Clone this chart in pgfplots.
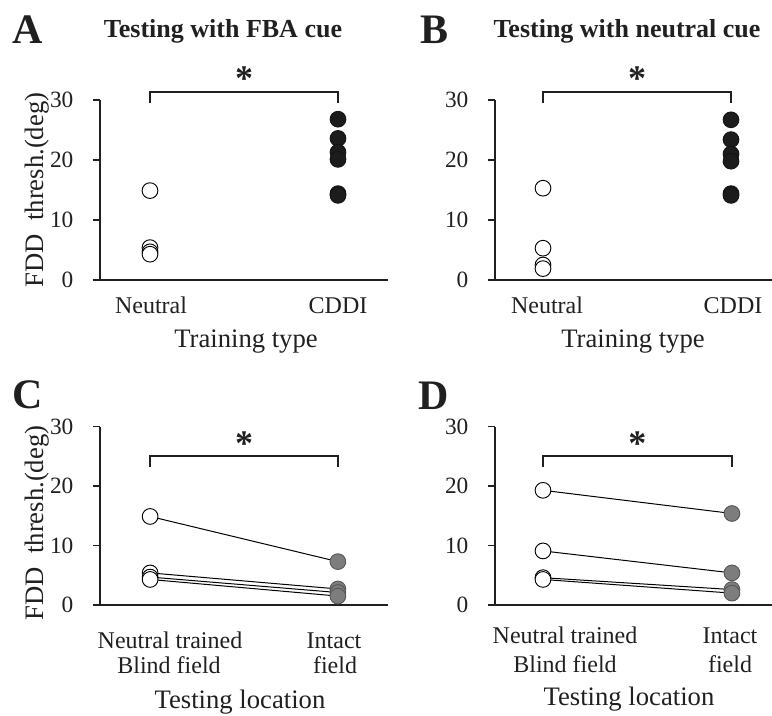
\documentclass[border=0pt]{standalone}
\usepackage{pgfplots}
\pgfplotsset{compat=1.18}
\usepackage{fontspec}
\setmainfont{Liberation Serif}

\definecolor{ink}{RGB}{32,32,32}
\definecolor{intact}{RGB}{125,125,125}
\definecolor{cddi}{RGB}{28,28,28}

% one drawing unit
\def\unitpx{0.75pt}

\newcommand{\catfont}{\fontsize{18}{21}\selectfont}
\newcommand{\labfont}{\fontsize{20}{24}\selectfont}
\newcommand{\titfont}{\fontsize{19.5}{23}\selectfont\bfseries}
\newcommand{\letfont}{\fontsize{31.5}{36}\selectfont\bfseries}

\pgfplotsset{
  panel/.style={
    scale only axis, anchor=south west,
    ymin=0, ymax=30, ytick={0,10,20,30}, yticklabels={0,10,20,30},
    xtick=\empty,
    axis x line*=bottom, axis y line*=left,
    tick align=outside, major tick length=5.25pt,
    tick style={ink, line width=1.1pt},
    axis line style={ink, line width=1.1pt},
    clip=false,
    yticklabel style={font=\fontsize{17.5}{20}\selectfont, text=ink, anchor=east, inner sep=0pt, xshift=-14.5pt},
  },
  open/.style={only marks, mark=*, mark size=5.9pt,
    mark options={fill=white, draw=black, line width=0.7pt}},
  full/.style={only marks, mark=*, mark size=5.9pt,
    mark options={fill=#1, draw=#1!70!black, line width=0.7pt}},
  pair/.style={no marks, black, line width=0.75pt},
}

\newcommand{\bracket}[3]{% y of bar, y of ends, y of star
  \draw[ink, line width=1.1pt] (axis cs:0,#2) -- (axis cs:0,#1) -- (axis cs:1,#1) -- (axis cs:1,#2);
  \node[text=ink, font=\fontsize{27}{30}\selectfont\bfseries] at (axis cs:0.5,#3) {*};
}

\begin{document}
\begin{tikzpicture}
\useasboundingbox (0,0) rectangle ({772*\unitpx},{-715*\unitpx});

% ---------------- A: testing with FBA cue
\begin{axis}[panel, at={({100*\unitpx},{-280*\unitpx})}, width={288*\unitpx}, height={180*\unitpx},
  xmin=-0.266, xmax=1.266]
  \addplot[open] coordinates {(0,14.9) (0,5.4) (0,4.7) (0,4.3)};
  \addplot[full=cddi] coordinates {(1,26.8) (1,23.6) (1,21.3) (1,20.1) (1,14.4) (1,14.1)};
  \bracket{31.3}{29.5}{33.6}
\end{axis}

% ---------------- B: testing with neutral cue
\begin{axis}[panel, at={({495*\unitpx},{-280*\unitpx})}, width={277*\unitpx}, height={180*\unitpx},
  xmin=-0.2553, xmax=1.218]
  \addplot[open] coordinates {(0,15.3) (0,5.3) (0,2.5) (0,1.9)};
  \addplot[full=cddi] coordinates {(1,26.7) (1,23.4) (1,21.0) (1,19.8) (1,14.4) (1,14.1)};
  \bracket{31.3}{29.5}{33.6}
\end{axis}

% ---------------- C: FBA cue, blind vs intact field
\begin{axis}[panel, at={({100*\unitpx},{-605*\unitpx})}, width={288*\unitpx}, height={178.3*\unitpx},
  xmin=-0.267, xmax=1.267]
  \addplot[open] coordinates {(0,14.9) (0,5.4) (0,4.7) (0,4.3)};
  \addplot[full=intact] coordinates {(1,7.3) (1,2.7) (1,2.1) (1,1.5)};
  \addplot[pair] coordinates {(0,14.9) (1,7.3)};
  \addplot[pair] coordinates {(0,5.4) (1,2.7)};
  \addplot[pair] coordinates {(0,4.7) (1,2.1)};
  \addplot[pair] coordinates {(0,4.3) (1,1.5)};
  \bracket{25.1}{23.2}{27.2}
\end{axis}

% ---------------- D: neutral cue, blind vs intact field
\begin{axis}[panel, at={({495*\unitpx},{-605*\unitpx})}, width={277*\unitpx}, height={178.3*\unitpx},
  xmin=-0.254, xmax=1.212]
  \addplot[open] coordinates {(0,19.3) (0,9.1) (0,4.6) (0,4.3)};
  \addplot[full=intact] coordinates {(1,15.4) (1,5.4) (1,2.6) (1,2.0)};
  \addplot[pair] coordinates {(0,19.3) (1,15.4)};
  \addplot[pair] coordinates {(0,9.1) (1,5.4)};
  \addplot[pair] coordinates {(0,4.6) (1,2.6)};
  \addplot[pair] coordinates {(0,4.3) (1,2.0)};
  \bracket{25.1}{23.2}{27.2}
\end{axis}

% ---------------- panel letters and titles
\node[anchor=base west, inner sep=0pt, text=ink, font=\letfont] at ({12*\unitpx},{-43*\unitpx}) {A};
\node[anchor=base west, inner sep=0pt, text=ink, font=\letfont] at ({420*\unitpx},{-43*\unitpx}) {B};
\node[anchor=base west, inner sep=0pt, text=ink, font=\letfont] at ({12*\unitpx},{-408*\unitpx}) {C};
\node[anchor=base west, inner sep=0pt, text=ink, font=\letfont] at ({418*\unitpx},{-409*\unitpx}) {D};
\node[anchor=base, inner sep=0pt, text=ink, font=\titfont] at ({223*\unitpx},{-37*\unitpx}) {Testing with FBA cue};
\node[anchor=base, inner sep=0pt, text=ink, font=\titfont] at ({627*\unitpx},{-37*\unitpx}) {Testing with neutral cue};

% ---------------- y labels
\node[rotate=90, inner sep=0pt, text=ink, font=\labfont] at ({37*\unitpx},{-190*\unitpx}) {FDD~~thresh.(deg)};
\node[rotate=90, inner sep=0pt, text=ink, font=\labfont] at ({37*\unitpx},{-523*\unitpx}) {FDD~~thresh.(deg)};

% ---------------- category labels
\node[anchor=base, inner sep=0pt, text=ink, font=\catfont] at ({151*\unitpx},{-313*\unitpx}) {Neutral};
\node[anchor=base, inner sep=0pt, text=ink, font=\catfont] at ({338*\unitpx},{-313*\unitpx}) {CDDI};
\node[anchor=base, inner sep=0pt, text=ink, font=\catfont] at ({547*\unitpx},{-313*\unitpx}) {Neutral};
\node[anchor=base, inner sep=0pt, text=ink, font=\catfont] at ({733*\unitpx},{-313*\unitpx}) {CDDI};
\node[anchor=base, inner sep=0pt, text=ink, font=\labfont] at ({246*\unitpx},{-347*\unitpx}) {Training type};
\node[anchor=base, inner sep=0pt, text=ink, font=\labfont] at ({633*\unitpx},{-347*\unitpx}) {Training type};

\node[anchor=base, inner sep=0pt, text=ink, font=\catfont] at ({170*\unitpx},{-648*\unitpx}) {Neutral trained};
\node[anchor=base, inner sep=0pt, text=ink, font=\catfont] at ({169*\unitpx},{-673*\unitpx}) {Blind field};
\node[anchor=base, inner sep=0pt, text=ink, font=\catfont] at ({334*\unitpx},{-648*\unitpx}) {Intact};
\node[anchor=base, inner sep=0pt, text=ink, font=\catfont] at ({335*\unitpx},{-673*\unitpx}) {field};
\node[anchor=base, inner sep=0pt, text=ink, font=\labfont] at ({240*\unitpx},{-708*\unitpx}) {Testing location};

\node[anchor=base, inner sep=0pt, text=ink, font=\catfont] at ({565*\unitpx},{-643*\unitpx}) {Neutral trained};
\node[anchor=base, inner sep=0pt, text=ink, font=\catfont] at ({565*\unitpx},{-672*\unitpx}) {Blind field};
\node[anchor=base, inner sep=0pt, text=ink, font=\catfont] at ({730*\unitpx},{-643*\unitpx}) {Intact};
\node[anchor=base, inner sep=0pt, text=ink, font=\catfont] at ({730*\unitpx},{-672*\unitpx}) {field};
\node[anchor=base, inner sep=0pt, text=ink, font=\labfont] at ({629*\unitpx},{-705*\unitpx}) {Testing location};
\end{tikzpicture}
\end{document}
